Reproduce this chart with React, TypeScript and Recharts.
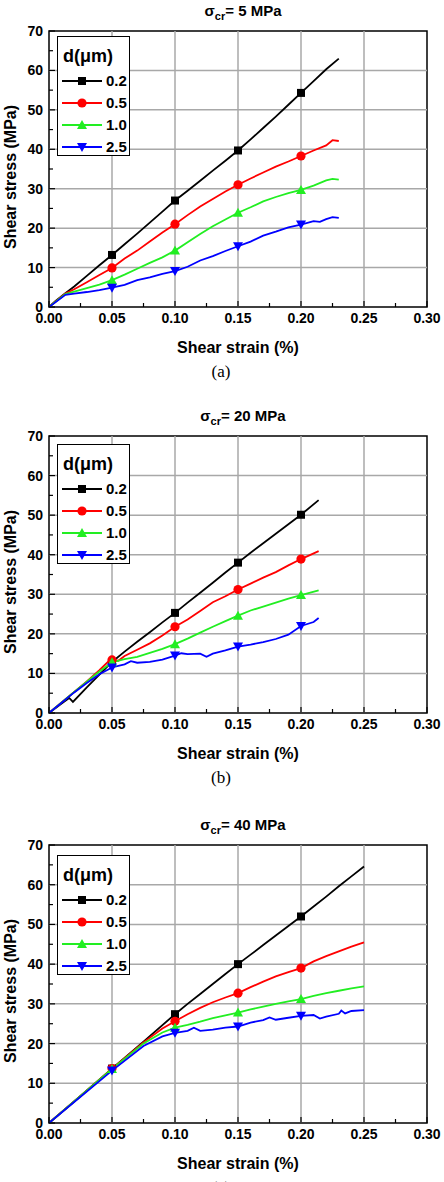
import React from "react";
import { LineChart, Line, XAxis, YAxis, ReferenceLine, ReferenceArea, Legend } from "recharts";

const FONT = '"Liberation Sans", Arial, Helvetica, sans-serif';

// shear strain (%) , shear stress (MPa)
const A_02: [number, number][] = [[0, 0], [0.005, 1.5], [0.013, 3.5], [0.02, 5.2], [0.03, 7.9], [0.04, 10.6], [0.05, 13.2], [0.06, 15.9], [0.07, 18.6], [0.08, 21.4], [0.09, 24.2], [0.1, 27], [0.11, 29.5], [0.12, 32], [0.13, 34.6], [0.14, 37.1], [0.15, 39.7], [0.16, 42.5], [0.17, 45.4], [0.18, 48.3], [0.19, 51.3], [0.2, 54.3], [0.21, 57.3], [0.22, 60.3], [0.23, 63]];
const A_05: [number, number][] = [[0, 0], [0.013, 3.4], [0.02, 4.5], [0.03, 6.3], [0.04, 8.1], [0.05, 9.9], [0.06, 12.3], [0.07, 14.3], [0.08, 16.6], [0.09, 18.9], [0.1, 21], [0.11, 23.3], [0.12, 25.5], [0.13, 27.4], [0.14, 29.3], [0.15, 31], [0.16, 32.6], [0.17, 34.1], [0.18, 35.6], [0.19, 36.9], [0.2, 38.3], [0.21, 39.7], [0.22, 41], [0.225, 42.3], [0.23, 42.1]];
const A_10: [number, number][] = [[0, 0], [0.013, 3.3], [0.02, 3.9], [0.03, 4.8], [0.04, 5.7], [0.05, 6.8], [0.06, 8.2], [0.07, 9.7], [0.08, 11.2], [0.09, 12.6], [0.1, 14.3], [0.11, 16.4], [0.12, 18.5], [0.13, 20.5], [0.14, 22.2], [0.15, 23.9], [0.16, 25.3], [0.17, 26.8], [0.18, 27.9], [0.19, 28.9], [0.2, 29.7], [0.21, 30.8], [0.22, 32.1], [0.225, 32.5], [0.23, 32.3]];
const A_25: [number, number][] = [[0, 0], [0.013, 3.1], [0.02, 3.4], [0.03, 3.8], [0.04, 4.3], [0.05, 4.9], [0.06, 5.6], [0.07, 6.8], [0.08, 7.5], [0.09, 8.4], [0.1, 9.1], [0.11, 10.2], [0.12, 11.8], [0.13, 12.9], [0.14, 14.2], [0.15, 15.4], [0.16, 16.6], [0.17, 18.1], [0.18, 19.1], [0.19, 20.2], [0.2, 20.9], [0.21, 21.8], [0.215, 21.6], [0.22, 22.3], [0.225, 22.8], [0.23, 22.6]];

const B_02: [number, number][] = [[0, 0], [0.005, 1.2], [0.01, 2.4], [0.016, 3.8], [0.019, 2.8], [0.03, 6.5], [0.04, 9.7], [0.05, 12.9], [0.06, 15.5], [0.07, 18], [0.08, 20.4], [0.09, 22.9], [0.1, 25.3], [0.11, 27.9], [0.12, 30.4], [0.13, 32.9], [0.14, 35.5], [0.15, 38], [0.16, 40.5], [0.17, 42.9], [0.18, 45.3], [0.19, 47.7], [0.2, 50.1], [0.214, 53.8]];
const B_05: [number, number][] = [[0, 0], [0.01, 2.7], [0.02, 5.3], [0.03, 8], [0.04, 10.8], [0.048, 13.3], [0.05, 13.4], [0.055, 13.2], [0.06, 14.4], [0.07, 16], [0.08, 17.6], [0.09, 19.6], [0.1, 21.8], [0.11, 23.6], [0.12, 25.8], [0.13, 28], [0.14, 29.5], [0.15, 31.2], [0.16, 32.7], [0.17, 34.2], [0.18, 35.6], [0.19, 37.3], [0.2, 38.9], [0.214, 40.9]];
const B_10: [number, number][] = [[0, 0], [0.01, 2.7], [0.02, 5.3], [0.03, 7.9], [0.04, 10.5], [0.05, 12.8], [0.06, 13.6], [0.07, 14.2], [0.08, 15.2], [0.09, 16.2], [0.1, 17.4], [0.11, 18.8], [0.12, 20.3], [0.13, 21.8], [0.14, 23.2], [0.15, 24.6], [0.16, 25.9], [0.17, 26.9], [0.18, 27.9], [0.19, 28.9], [0.2, 29.8], [0.214, 31]];
const B_25: [number, number][] = [[0, 0], [0.01, 2.6], [0.02, 5.2], [0.03, 7.6], [0.04, 9.8], [0.05, 11.5], [0.055, 11.9], [0.06, 12.3], [0.065, 13.1], [0.07, 12.7], [0.08, 12.9], [0.09, 13.5], [0.1, 14.5], [0.105, 15.1], [0.11, 14.9], [0.12, 15], [0.125, 14.2], [0.13, 15], [0.14, 15.8], [0.15, 16.8], [0.16, 17.3], [0.17, 17.9], [0.18, 18.7], [0.19, 19.8], [0.2, 22], [0.21, 23], [0.214, 24]];

const C_02: [number, number][] = [[0, 0], [0.025, 6.8], [0.05, 13.7], [0.075, 20.5], [0.1, 27.4], [0.11, 30], [0.12, 32.5], [0.13, 35], [0.14, 37.5], [0.15, 40], [0.16, 42.4], [0.17, 44.8], [0.18, 47.2], [0.19, 49.6], [0.2, 52], [0.21, 54.5], [0.22, 57], [0.23, 59.6], [0.24, 62.1], [0.25, 64.6]];
const C_05: [number, number][] = [[0, 0], [0.025, 6.8], [0.05, 13.7], [0.075, 20.3], [0.09, 23.8], [0.1, 25.6], [0.11, 27.4], [0.12, 29], [0.13, 30.4], [0.14, 31.6], [0.15, 32.7], [0.16, 34.2], [0.17, 35.6], [0.18, 36.9], [0.19, 38], [0.2, 39], [0.21, 40.7], [0.22, 42], [0.23, 43.2], [0.24, 44.4], [0.25, 45.5]];
const C_10: [number, number][] = [[0, 0], [0.025, 6.8], [0.05, 13.6], [0.075, 20], [0.09, 22.8], [0.1, 24], [0.11, 24.7], [0.12, 25.5], [0.13, 26.4], [0.14, 27.1], [0.15, 27.8], [0.16, 28.6], [0.17, 29.3], [0.18, 30], [0.19, 30.6], [0.2, 31.2], [0.21, 32], [0.22, 32.7], [0.23, 33.3], [0.24, 33.9], [0.25, 34.4]];
const C_25: [number, number][] = [[0, 0], [0.025, 6.6], [0.05, 13.2], [0.075, 19.4], [0.09, 21.8], [0.1, 22.7], [0.11, 23.2], [0.115, 24], [0.12, 23.2], [0.13, 23.5], [0.14, 24], [0.15, 24.3], [0.16, 25.3], [0.17, 25.9], [0.175, 26.6], [0.18, 26], [0.19, 26.5], [0.2, 27], [0.21, 27.2], [0.215, 26.3], [0.22, 26.8], [0.23, 27.5], [0.232, 28.3], [0.235, 27.6], [0.24, 28.2], [0.25, 28.4]];

const SIZES = ["0.2", "0.5", "1.0", "2.5"];
const COLORS = ["#000000", "#ff0000", "#22ee22", "#0000ff"];
const SHAPES = ["square", "circle", "up", "down"];
const MARK_X = [0.05, 0.1, 0.15, 0.2];

const X_TICKS = [0, 0.025, 0.05, 0.075, 0.1, 0.125, 0.15, 0.175, 0.2, 0.225, 0.25, 0.275, 0.3];
const Y_TICKS = [0, 5, 10, 15, 20, 25, 30, 35, 40, 45, 50, 55, 60, 65, 70];
const X_GRID = [0.05, 0.1, 0.15, 0.2, 0.25];
const Y_GRID = [10, 20, 30, 40, 50, 60];

const PANELS = [
  { sigma: "5", caption: "(a)", top: 0, plotH: 276, legendDy: 5, data: [A_02, A_05, A_10, A_25] },
  { sigma: "20", caption: "(b)", top: 405, plotH: 277, legendDy: 8, data: [B_02, B_05, B_10, B_25] },
  { sigma: "40", caption: "(c)", top: 814, plotH: 278, legendDy: 10, data: [C_02, C_05, C_10, C_25] },
];

const MT = 31;
const TM = 6;

const isStep = (v: number, s: number) => Math.abs(v / s - Math.round(v / s)) < 1e-6;

function Marker({ shape, color, cx, cy }: any) {
  if (shape === "square") return <rect x={cx - 4} y={cy - 4} width={8} height={8} fill={color} />;
  if (shape === "circle") return <circle cx={cx} cy={cy} r={4.6} fill={color} />;
  if (shape === "up") return <polygon points={`${cx},${cy - 5} ${cx + 5},${cy + 4} ${cx - 5},${cy + 4}`} fill={color} />;
  return <polygon points={`${cx},${cy + 5} ${cx + 5},${cy - 4} ${cx - 5},${cy - 4}`} fill={color} />;
}

const makeDot = (shape: string, color: string) => (props: any) => {
  const { cx, cy, payload, index } = props;
  if (!MARK_X.some((m) => Math.abs(m - payload.x) < 1e-6)) return <g key={index} />;
  return <Marker key={index} shape={shape} color={color} cx={cx} cy={cy} />;
};

const XTick = (props: any) => {
  const { x, y, payload } = props;
  const v = payload.value;
  const major = isStep(v, 0.05);
  const ay = y - TM;
  return (
    <g>
      <line x1={x} x2={x} y1={ay} y2={ay - (major ? 6 : 4)} stroke="#000" strokeWidth={1.2} />
      {major && (
        <text x={x} y={ay + 16} textAnchor="middle" fontFamily={FONT} fontWeight="bold" fontSize={14} fill="#000">
          {v.toFixed(2)}
        </text>
      )}
    </g>
  );
};

const YTick = (props: any) => {
  const { x, y, payload } = props;
  const v = payload.value;
  const major = isStep(v, 10);
  const ax = x + TM;
  return (
    <g>
      <line x1={ax} x2={ax + (major ? 6 : 4)} y1={y} y2={y} stroke="#000" strokeWidth={1.2} />
      {major && (
        <text x={x} y={y + 5} textAnchor="end" fontFamily={FONT} fontWeight="bold" fontSize={14} fill="#000">
          {v}
        </text>
      )}
    </g>
  );
};

function LegendBox() {
  return (
    <div style={{ position: "relative", width: 73, height: 120, border: "1.5px solid #000", background: "#fff", boxSizing: "border-box", fontFamily: FONT, fontWeight: "bold", color: "#000" }}>
      <div style={{ position: "absolute", left: 5, top: 8, fontSize: 18, lineHeight: "22px", whiteSpace: "nowrap" }}>d(μm)</div>
      {SIZES.map((s, i) => (
        <div key={s} style={{ position: "absolute", left: 0, top: 35 + i * 22, height: 18, width: 70 }}>
          <svg width={46} height={18} style={{ position: "absolute", left: 0, top: 0 }}>
            <line x1={4} x2={44} y1={9} y2={9} stroke={COLORS[i]} strokeWidth={1.8} />
            <Marker shape={SHAPES[i]} color={COLORS[i]} cx={24} cy={9} />
          </svg>
          <span style={{ position: "absolute", left: 48, top: 0, fontSize: 15, lineHeight: "18px" }}>{s}</span>
        </div>
      ))}
    </div>
  );
}

function Panel({ sigma, caption, top, plotH, legendDy, data }: any) {
  const chartH = MT + plotH + 83;
  const plotBottom = MT + plotH;
  return (
    <div style={{ position: "absolute", top, left: 0, width: 444, height: chartH }}>
      <div style={{ position: "absolute", left: 0, width: 486, top: 2, textAlign: "center", fontFamily: FONT, fontWeight: "bold", fontSize: 15, lineHeight: "18px", whiteSpace: "nowrap" }}>
        σ<span style={{ fontSize: 11, position: "relative", top: 4 }}>cr</span>= {sigma} MPa
      </div>
      <LineChart width={444} height={chartH} margin={{ top: MT, right: 17, bottom: 53, left: 0 }}>
        <XAxis type="number" dataKey="x" domain={[0, 0.3]} ticks={X_TICKS} interval={0} tick={<XTick />} tickSize={0} tickMargin={TM} axisLine={false} height={30} allowDataOverflow />
        <YAxis type="number" dataKey="y" domain={[0, 70]} ticks={Y_TICKS} interval={0} tick={<YTick />} tickSize={0} tickMargin={TM} axisLine={false} width={49} allowDataOverflow />
        {X_GRID.map((g) => (
          <ReferenceLine key={"x" + g} x={g} stroke="#a8a8a8" strokeWidth={1.5} />
        ))}
        {Y_GRID.map((g) => (
          <ReferenceLine key={"y" + g} y={g} stroke="#a8a8a8" strokeWidth={1.5} />
        ))}
        <ReferenceArea x1={0} x2={0.3} y1={0} y2={70} fill="none" fillOpacity={0} stroke="#000" strokeWidth={1.5} />
        {data.map((d: [number, number][], i: number) => (
          <Line
            key={SIZES[i]}
            name={SIZES[i]}
            data={d.map(([x, y]) => ({ x, y }))}
            dataKey="y"
            type="linear"
            stroke={COLORS[i]}
            strokeWidth={1.8}
            dot={makeDot(SHAPES[i], COLORS[i])}
            activeDot={false}
            isAnimationActive={false}
          />
        ))}
        <Legend layout="vertical" align="center" verticalAlign="middle" content={() => <LegendBox />} wrapperStyle={{ top: MT + legendDy, left: 57, width: 73, height: 120 }} />
      </LineChart>
      <div style={{ position: "absolute", left: 0, width: 476, top: plotBottom + 32, textAlign: "center", fontFamily: FONT, fontWeight: "bold", fontSize: 16, lineHeight: "18px", whiteSpace: "nowrap" }}>
        Shear strain (%)
      </div>
      <div style={{ position: "absolute", left: 0, width: 442, top: plotBottom + 55, textAlign: "center", fontFamily: '"Liberation Serif", "Times New Roman", serif', fontSize: 17, lineHeight: "20px" }}>
        {caption}
      </div>
      <div style={{ position: "absolute", left: 11 - 90, top: MT + 146 - 10, width: 180, height: 20, transform: "rotate(-90deg)", textAlign: "center", fontFamily: FONT, fontWeight: "bold", fontSize: 16, lineHeight: "20px", whiteSpace: "nowrap" }}>
        Shear stress (MPa)
      </div>
    </div>
  );
}

export default function App() {
  return (
    <div style={{ position: "absolute", top: 0, left: 0, width: 444, height: 1182, background: "#fff", overflow: "hidden" }}>
      {PANELS.map((p) => (
        <Panel key={p.caption} {...p} />
      ))}
    </div>
  );
}
